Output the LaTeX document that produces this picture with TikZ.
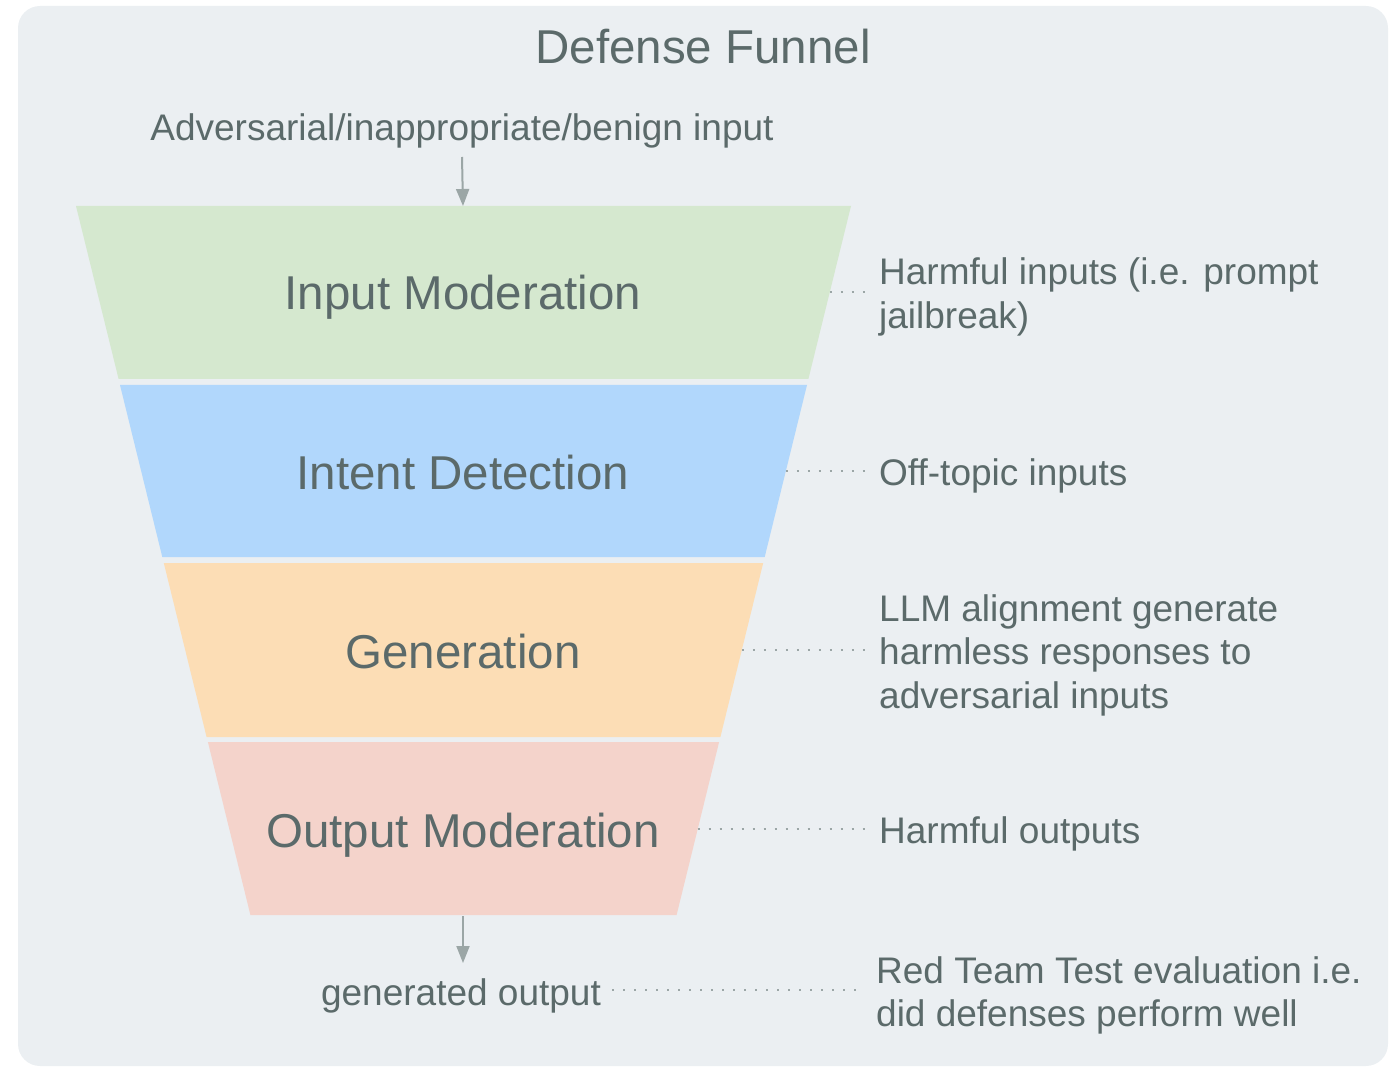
\documentclass[tikz,border=0pt]{standalone}
\usepackage{fontspec}
\setmainfont{Liberation Sans}
\usetikzlibrary{arrows.meta}
\definecolor{panel}{HTML}{EBEFF2}
\definecolor{ink}{HTML}{5B6A6A}
\definecolor{guide}{HTML}{9BA6A6}
\definecolor{bandA}{HTML}{D5E8CF}
\definecolor{bandB}{HTML}{B1D7FC}
\definecolor{bandC}{HTML}{FCDDB5}
\definecolor{bandD}{HTML}{F4D3CB}
\begin{document}
\begin{tikzpicture}[x=1pt,y=-1pt,
  big/.style={font=\fontsize{47.5}{54}\selectfont, text=ink, inner sep=0pt, anchor=base},
  small/.style={font=\fontsize{37}{43.5}\selectfont, text=ink, inner sep=0pt, align=left, anchor=base},
  note/.style={small, anchor=base west},
  flow/.style={draw=guide, line width=2pt, -{Triangle[length=17pt,width=13pt]}},
  leader/.style={draw=guide, line width=2pt, dash pattern=on 2pt off 9pt}
]
\useasboundingbox (0,0) rectangle (1393,1067);
% panel
\fill[panel, rounded corners=22pt] (18,6) rectangle (1388,1066);

% funnel bands
\fill[bandA] (76,206) -- (851,206) -- (808.4,379) -- (118.6,379) -- cycle;
\fill[bandB] (120,385) -- (807,385) -- (764.7,557) -- (162.3,557) -- cycle;
\fill[bandC] (163.8,563) -- (763.2,563) -- (720.4,737) -- (206.6,737) -- cycle;
\fill[bandD] (207.9,742) -- (719.1,742) -- (676.6,915) -- (250.4,915) -- cycle;

% edge points of the funnel
\coordinate (top) at (463,206);
\coordinate (bottom) at (463,916);
\coordinate (eA) at (829.8,292);
\coordinate (eB) at (785.8,471);
\coordinate (eC) at (741.8,650);
\coordinate (eD) at (697.7,829);
\coordinate (eE) at (612,990);

% titles and stage labels
\node[big] (title) at (703,64) {Defense Funnel};
\node[big] (sA) at (463,310) {Input Moderation};
\node[big] (sB) at (463,489) {Intent Detection};
\node[big] (sC) at (463,668) {Generation};
\node[big] (sD) at (463,847) {Output Moderation};

% input and output
\node[small] (in) at (462,141) {Adversarial/inappropriate/benign input};
\node[small] (out) at (461,1005) {generated output};
\coordinate (inarrow) at (462,157);
\coordinate (outarrow) at (463,963);
\draw[flow] (inarrow) -- (top);
\draw[flow] (bottom) -- (outarrow);

% notes on the right (placed by the baseline of their last line)
\node[note] (nA) at (879,328.5) {Harmful inputs (i.e. prompt\\jailbreak)};
\node[note] (nB) at (879,485) {Off-topic inputs};
\node[note] (nC) at (879,708) {LLM alignment generate\\harmless responses to\\adversarial inputs};
\node[note] (nD) at (879,843) {Harmful outputs};
\node[note] (nE) at (876,1026.5) {Red Team Test evaluation i.e.\\did defenses perform well};

% leaders
\draw[leader] (eA) -- ([xshift=-10pt]nA.west |- eA);
\draw[leader] (eB) -- ([xshift=-10pt]nB.west |- eB);
\draw[leader] (eC) -- ([xshift=-8pt]nC.west |- eC);
\draw[leader] (eD) -- ([xshift=-6pt]nD.west |- eD);
\draw[leader] (eE) -- ([xshift=-12pt]nE.west |- eE);
\end{tikzpicture}
\end{document}
